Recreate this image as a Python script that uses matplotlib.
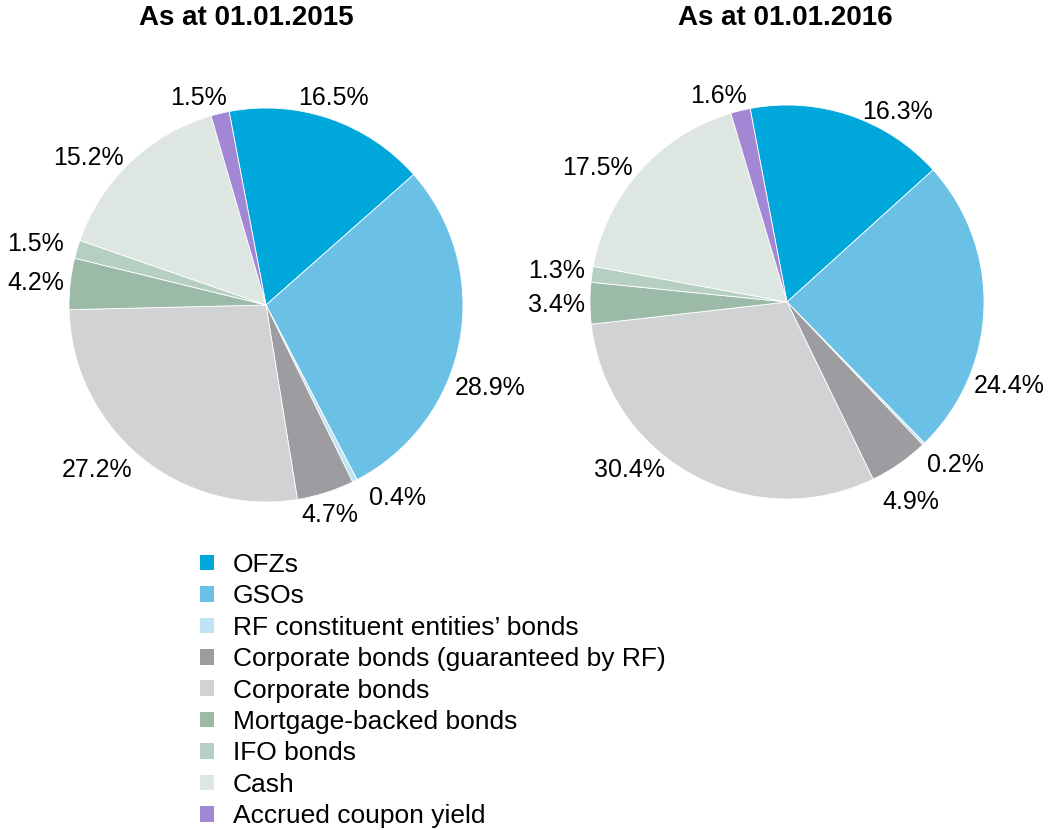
import numpy as np
import matplotlib.pyplot as plt
from matplotlib.patches import Patch

plt.rcParams['font.family'] = ['Liberation Sans', 'DejaVu Sans']

# Data
categories = ["OFZs", "GSOs", "RF constituent entities\u2019 bonds",
              "Corporate bonds (guaranteed by RF)", "Corporate bonds",
              "Mortgage-backed bonds", "IFO bonds", "Cash", "Accrued coupon yield"]
share_2015 = [16.5, 28.9, 0.4, 4.7, 27.2, 4.2, 1.5, 15.2, 1.5]
share_2016 = [16.3, 24.4, 0.2, 4.9, 30.4, 3.4, 1.3, 17.5, 1.6]
titles = ["As at 01.01.2015", "As at 01.01.2016"]

colors = ["#00a7db", "#6bc0e5", "#bde3f4", "#9d9ca1", "#d1d2d4",
          "#9bbba8", "#b6cfc3", "#dde6e1", "#a287d4"]

# label placement (pie-radius units, relative to centre)
label_pos_2015 = [(0.34, 1.05), (1.137, -0.42), (0.665, -0.98), (0.325, -1.066),
                  (-0.858, -0.838), (-1.17, 0.11), (-1.17, 0.31), (-0.90, 0.746),
                  (-0.345, 1.05)]
label_pos_2016 = [(0.563, 0.964), (1.13, -0.426), (0.853, -0.827), (0.63, -1.015),
                  (-0.797, -0.853), (-1.17, -0.015), (-1.17, 0.157), (-0.96, 0.68),
                  (-0.35, 1.046)]

W, H = 1048, 830
fig = plt.figure(figsize=(W / 100, H / 100), dpi=100)

def pie_axes(cx, cy, r):
    return fig.add_axes([(cx - r) / W, 1 - (cy + r) / H, 2 * r / W, 2 * r / H])

specs = [(266, 305, 197, share_2015, label_pos_2015, 246),
         (787, 302, 197, share_2016, label_pos_2016, 785)]

for (cx, cy, r, vals, lpos, tx), title in zip(specs, titles):
    ax = pie_axes(cx, cy, r)
    ax.pie(vals, colors=colors, startangle=100.8, counterclock=False,
           wedgeprops=dict(edgecolor='white', linewidth=0.6))
    ax.set_xlim(-1, 1)
    ax.set_ylim(-1, 1)
    ax.set_aspect('equal')
    for v, (lx, ly) in zip(vals, lpos):
        ax.text(lx, ly, f"{v:.1f}%", ha='center', va='center', fontsize=18,
                clip_on=False)
    fig.text(tx / W, 1 - 18 / H, title, ha='center', va='center',
             fontsize=20, fontweight='bold')

handles = [Patch(facecolor=c, edgecolor='none') for c in colors]
fig.legend(handles, categories, loc='upper left',
           bbox_to_anchor=(200 / W, 1 - 553 / H), frameon=False, fontsize=19,
           handlelength=0.53, handleheight=0.53, handletextpad=0.72,
           labelspacing=0.28, borderaxespad=0, borderpad=0)

fig.savefig("out.png", dpi=100)
